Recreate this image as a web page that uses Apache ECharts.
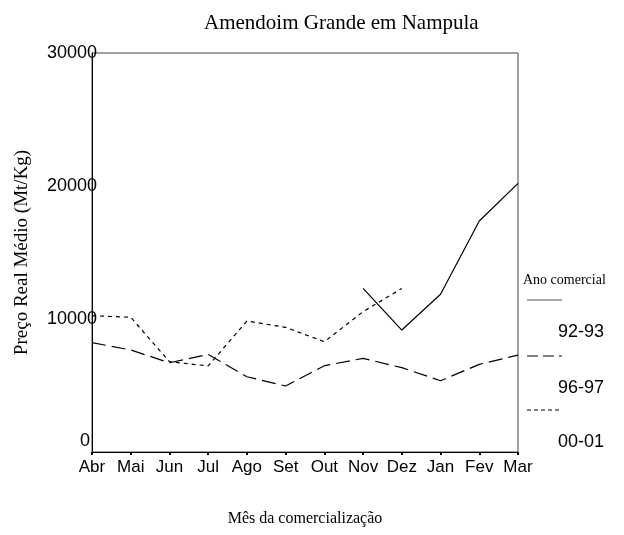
<!DOCTYPE html>
<html><head><meta charset="utf-8">
<script src="https://cdn.jsdelivr.net/npm/echarts@6/dist/echarts.min.js"></script>
<style>html,body{margin:0;padding:0;background:#fff}#c{width:624px;height:535px}</style>
</head><body><div id="c"></div>
<script>
var months = ['Abr','Mai','Jun','Jul','Ago','Set','Out','Nov','Dez','Jan','Fev','Mar'];
var s9293 = [null,null,null,null,null,null,null,12300,9170,11860,17370,20200];
var s9697 = [8220,7670,6710,7340,5660,4960,6490,7040,6340,5360,6590,7290];
var s0001 = [10250,10130,6790,6470,9850,9370,8290,10550,12300,null,null,null];
var seriesNames = ['92-93','96-97','00-01'];

var plotDash = ['solid',[14,6],[4,4]];
var legendDash = [null,[11,5],[4,3]];
var dataSets = [s9293,s9697,s0001];

var chart = echarts.init(document.getElementById('c'));
var serif = '"Liberation Serif", "Times New Roman", serif';
var sans = '"Liberation Sans", Arial, sans-serif';
var legendG = [{type:'text', left:523, top:273, style:{text:'Ano comercial', font:'14px '+serif, fill:'#000'}}];
var ly = [300,356,410];
for (var i=0;i<3;i++){
  legendG.push({type:'line', shape:{x1:527,y1:ly[i],x2:562,y2:ly[i]}, style:{stroke:i===0?'#555':'#000', lineWidth:1.2, lineDash: legendDash[i]}});
  legendG.push({type:'text', left:558, top:ly[i]+23, style:{text:seriesNames[i], font:'18px '+sans, fill:'#000'}});
}
chart.setOption({
  animation:false,
  title:{text:'Amendoim Grande em Nampula', left:199, top:8, textStyle:{fontFamily:serif, fontSize:21, fontWeight:'normal', color:'#000'}},
  grid:{left:92, right:106, top:53, bottom:83, show:true, borderColor:'#444', borderWidth:1},
  xAxis:{type:'category', data:months, boundaryGap:false,
    name:'Mês da comercialização', nameLocation:'middle', nameGap:59,
    nameTextStyle:{fontFamily:serif, fontSize:16, color:'#000'},
    axisLine:{lineStyle:{color:'#000'}},
    axisTick:{show:true, length:3, lineStyle:{color:'#000', width:2}},
    axisLabel:{fontFamily:sans, fontSize:17, color:'#000', margin:7, interval:0},
    splitLine:{show:false}},
  yAxis:{type:'value', min:0, max:30000, interval:10000,
    name:'Preço Real Médio (Mt/Kg)', nameLocation:'middle', nameGap:60,
    nameTextStyle:{fontFamily:serif, fontSize:19, color:'#000'},
    axisLine:{show:true, lineStyle:{color:'#000'}},
    axisTick:{show:false},
    axisLabel:{fontFamily:sans, fontSize:18, color:'#000', margin:-5,
      formatter:function(v){return v===0 ? '{z|0}' : String(v);},
      rich:{z:{fontFamily:sans, fontSize:18, color:'#000', padding:[0,7,22,0]}}},
    splitLine:{show:false}},
  graphic: legendG,
  series: dataSets.map(function(d,i){return {name:seriesNames[i], type:'line', data:d, symbol:'none', connectNulls:false,
    lineStyle:{color:'#000', width:1.2, type:plotDash[i]}};})
});
</script></body></html>
